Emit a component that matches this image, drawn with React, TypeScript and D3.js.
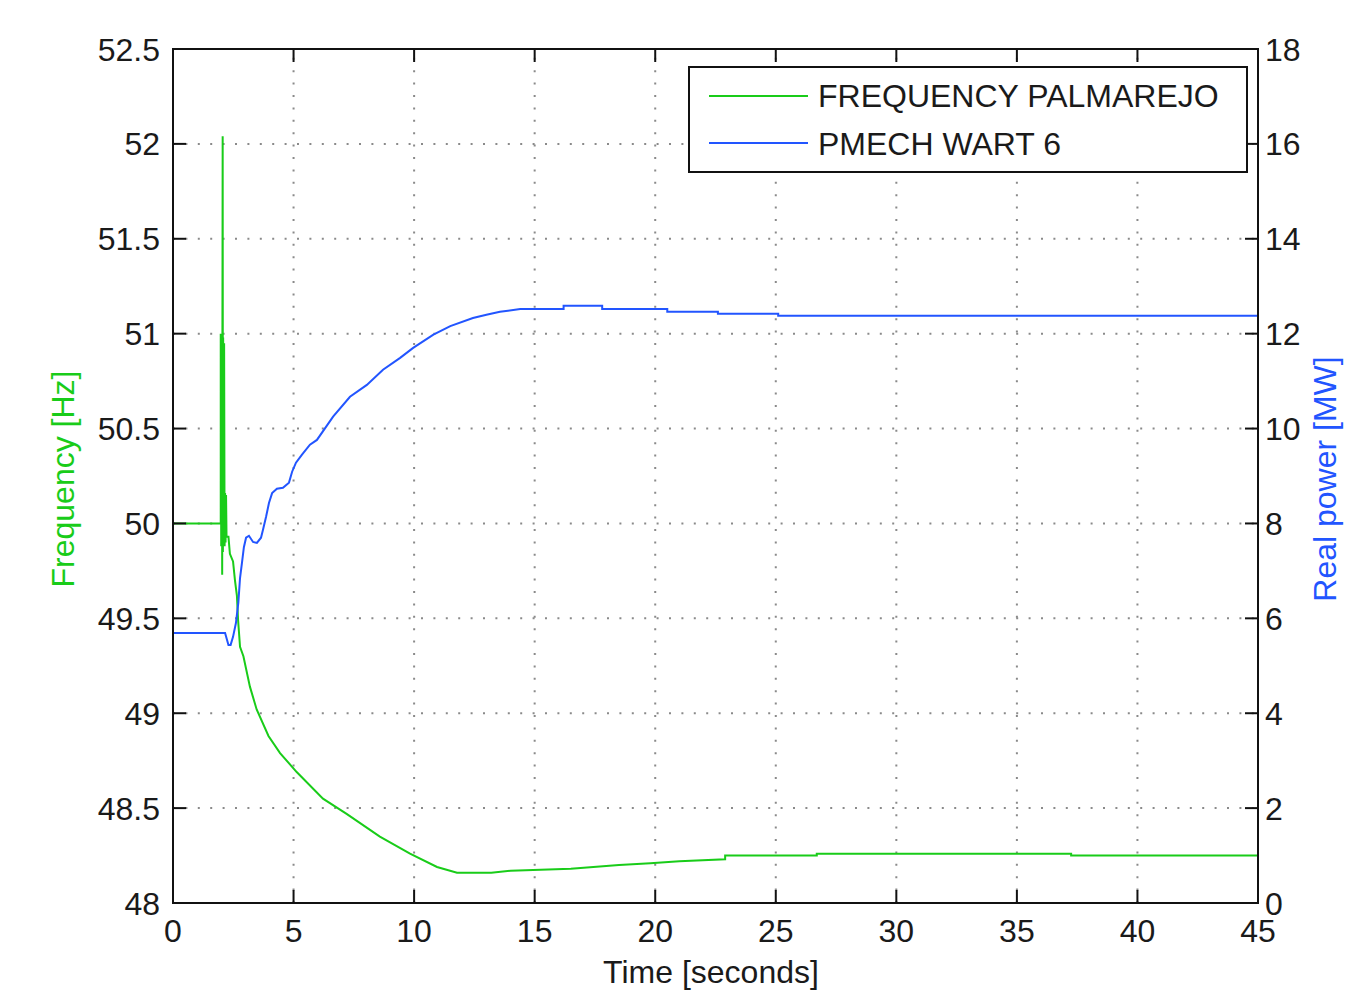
import React from "react";
import * as d3 from "d3";

const xTicks = [0, 5, 10, 15, 20, 25, 30, 35, 40, 45];
const leftTicks = [48, 48.5, 49, 49.5, 50, 50.5, 51, 51.5, 52, 52.5];
const rightTicks = [0, 2, 4, 6, 8, 10, 12, 14, 16, 18];

const seriesNames = ["FREQUENCY PALMAREJO", "PMECH WART 6"];

// Frequency at Palmarejo [Hz] vs time [s]
const freqT = [0, 1.98, 1.98, 2.0, 2.01, 2.02, 2.03, 2.04, 2.05, 2.06, 2.07, 2.08, 2.1, 2.12, 2.14, 2.16, 2.18, 2.2, 2.22, 2.3, 2.36, 2.49, 2.57, 2.65, 2.7, 2.78, 2.92, 3.19, 3.47, 3.96, 4.44, 5.13, 6.22, 7.2, 8.58, 9.83, 10.95, 11.78, 13.2, 14, 16.5, 18.5, 19.8, 21, 22.9, 22.9, 26.7, 26.7, 37.25, 37.25, 45];
const freqV = [50, 50, 51.0, 49.88, 50.98, 49.9, 50.95, 49.73, 51.0, 52.04, 49.85, 50.98, 49.9, 50.95, 49.88, 50.16, 49.9, 50.15, 49.93, 49.93, 49.84, 49.8, 49.7, 49.62, 49.49, 49.35, 49.3, 49.14, 49.02, 48.88, 48.79, 48.69, 48.55, 48.47, 48.35, 48.26, 48.19, 48.16, 48.16, 48.17, 48.18, 48.2, 48.21, 48.22, 48.23, 48.25, 48.25, 48.26, 48.26, 48.25, 48.25];

// Mechanical power WART 6 [MW] vs time [s]
const powT = [0, 2.16, 2.3, 2.39, 2.49, 2.61, 2.71, 2.78, 2.86, 2.94, 3.03, 3.15, 3.32, 3.48, 3.65, 3.73, 3.86, 3.98, 4.11, 4.31, 4.56, 4.81, 4.94, 5.1, 5.35, 5.68, 5.97, 6.64, 7.34, 8.04, 8.71, 9.42, 9.96, 10.8, 11.5, 12.44, 13.0, 13.56, 14.4, 16.2, 16.2, 17.8, 17.8, 20.5, 20.5, 22.6, 22.6, 25.1, 25.1, 45];
const powV = [5.69, 5.69, 5.44, 5.44, 5.61, 5.9, 6.33, 6.85, 7.17, 7.5, 7.7, 7.74, 7.61, 7.59, 7.7, 7.86, 8.14, 8.43, 8.64, 8.73, 8.75, 8.86, 9.09, 9.28, 9.45, 9.66, 9.76, 10.25, 10.67, 10.92, 11.24, 11.49, 11.7, 11.98, 12.16, 12.33, 12.4, 12.46, 12.52, 12.52, 12.59, 12.59, 12.52, 12.52, 12.46, 12.46, 12.42, 12.42, 12.38, 12.38];

const GREEN = "#19cc19";
const BLUE = "#2255ff";
const FONT = "'Liberation Sans', Arial, sans-serif";

export default function App() {
  const L = 173, R = 1258, T = 49, B = 903;
  const x = d3.scaleLinear().domain([0, 45]).range([L, R]);
  const yL = d3.scaleLinear().domain([48, 52.5]).range([B, T]);
  const yR = d3.scaleLinear().domain([0, 18]).range([B, T]);

  const freqPts: [number, number][] = freqT.map((t, i) => [t, freqV[i]]);
  const powPts: [number, number][] = powT.map((t, i) => [t, powV[i]]);
  const lineF = d3.line<[number, number]>().x(d => x(d[0])).y(d => yL(d[1]));
  const lineP = d3.line<[number, number]>().x(d => x(d[0])).y(d => yR(d[1]));

  const tickLen = 13;
  const fmt = (v: number) => String(v);

  return (
    <svg width={1368} height={999} style={{ position: "absolute", left: 0, top: 0, background: "#fff" }} fontFamily={FONT}>
      <rect x={0} y={0} width={1368} height={999} fill="#fff" />
      {/* grid */}
      <g stroke="#8a8a8a" strokeWidth={2} strokeDasharray="2,10.4">
        {xTicks.slice(1, -1).map(v => (
          <line key={"gx" + v} x1={x(v)} x2={x(v)} y1={B} y2={T} />
        ))}
        {leftTicks.slice(1, -1).map(v => (
          <line key={"gy" + v} x1={L} x2={R} y1={yL(v)} y2={yL(v)} />
        ))}
      </g>
      {/* data */}
      <path d={lineF(freqPts) || ""} fill="none" stroke={GREEN} strokeWidth={2} />
      <path d={lineP(powPts) || ""} fill="none" stroke={BLUE} strokeWidth={2} />
      {/* axes box */}
      <rect x={L} y={T} width={R - L} height={B - T} fill="none" stroke="#111" strokeWidth={2} />
      <g stroke="#111" strokeWidth={2}>
        {xTicks.map(v => (
          <g key={"tx" + v}>
            <line x1={x(v)} x2={x(v)} y1={B} y2={B - tickLen} />
            <line x1={x(v)} x2={x(v)} y1={T} y2={T + tickLen} />
          </g>
        ))}
        {leftTicks.map(v => (
          <line key={"tl" + v} x1={L} x2={L + tickLen} y1={yL(v)} y2={yL(v)} />
        ))}
        {rightTicks.map(v => (
          <line key={"tr" + v} x1={R} x2={R - tickLen} y1={yR(v)} y2={yR(v)} />
        ))}
      </g>
      {/* tick labels */}
      <g fontSize={32} fill="#1a1a1a">
        {xTicks.map(v => (
          <text key={"lx" + v} x={x(v)} y={942} textAnchor="middle">{fmt(v)}</text>
        ))}
        {leftTicks.map(v => (
          <text key={"ll" + v} x={160} y={yL(v)} dy="0.36em" textAnchor="end">{fmt(v)}</text>
        ))}
        {rightTicks.map(v => (
          <text key={"lr" + v} x={1265} y={yR(v)} dy="0.36em" textAnchor="start">{fmt(v)}</text>
        ))}
      </g>
      {/* axis titles */}
      <text x={711} y={983} fontSize={32} textAnchor="middle" fill="#1a1a1a">Time [seconds]</text>
      <text transform="translate(74,479) rotate(-90)" fontSize={32} textAnchor="middle" fill={GREEN}>Frequency [Hz]</text>
      <text transform="translate(1336,479) rotate(-90)" fontSize={32} textAnchor="middle" fill={BLUE}>Real power [MW]</text>
      {/* legend */}
      <rect x={689} y={67} width={558} height={105} fill="#fff" stroke="#111" strokeWidth={2} />
      <line x1={709} x2={808} y1={96} y2={96} stroke={GREEN} strokeWidth={2} />
      <line x1={709} x2={808} y1={143} y2={143} stroke={BLUE} strokeWidth={2} />
      <text x={818} y={107} fontSize={32} fill="#1a1a1a">{seriesNames[0]}</text>
      <text x={818} y={155} fontSize={32} fill="#1a1a1a">{seriesNames[1]}</text>
    </svg>
  );
}
